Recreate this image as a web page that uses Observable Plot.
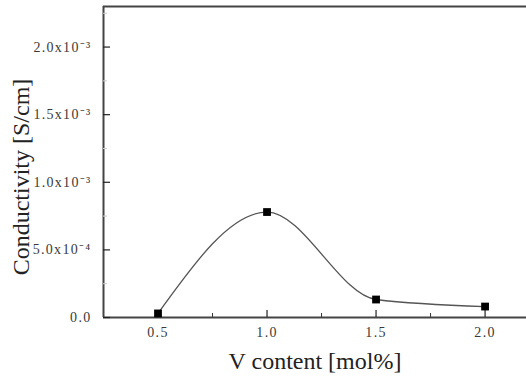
<!DOCTYPE html>
<html>
<head>
<meta charset="utf-8">
<script src="https://cdn.jsdelivr.net/npm/d3@7"></script>
<script src="https://cdn.jsdelivr.net/npm/@observablehq/plot@0.6"></script>
<style>
  html, body { margin: 0; padding: 0; background: white; }
  #chart g[aria-label$="tick label"] {
    font-family: 'Liberation Serif', 'Times New Roman', serif;
    font-size: 14px;
    letter-spacing: 1.3px;
  }
  #chart g[aria-label$="tick label"] text { fill: #3a3a3a; }
</style>
</head>
<body>
<div id="chart"></div>
<script>
// Data
const vContent = [0.5, 1.0, 1.5, 2.0];
const conductivity = [3.0e-5, 7.8e-4, 1.33e-4, 8.1e-5];

// Axis ticks
const xMajor = [0.5, 1.0, 1.5, 2.0];
const xMajorLabels = ["0.5", "1.0", "1.5", "2.0"];
const xMinor = [0.75, 1.25, 1.75];
const yMajor = [0, 5e-4, 1e-3, 1.5e-3, 2e-3];
const yMajorLabels = ["0.0", "5.0x10\u207B\u2074", "1.0x10\u207B\u00B3", "1.5x10\u207B\u00B3", "2.0x10\u207B\u00B3"];
const yMinor = [2.5e-4, 7.5e-4, 1.25e-3, 1.75e-3, 2.25e-3];

const xLabel = "V content [mol%]";
const yLabel = "Conductivity [S/cm]";

const data = vContent.map((x, i) => ({x, y: conductivity[i]}));
const xDomain = [0.25, 2.19];
const yDomain = [0, 2.3e-3];

const fmtX = d => xMajorLabels[xMajor.findIndex(v => Math.abs(v - d) < 1e-9)];
const fmtY = d => yMajorLabels[yMajor.findIndex(v => Math.abs(v - d) < 1e-12)];

const serif = "'Liberation Serif', 'Times New Roman', serif";
const axisColor = "#444";

const chart = Plot.plot({
  width: 526,
  height: 377,
  marginLeft: 103,
  marginRight: 0,
  marginTop: 6,
  marginBottom: 60,
  style: {fontFamily: serif, background: "white", color: "#333"},
  x: {domain: xDomain},
  y: {domain: yDomain},
  marks: [
    // frame lines
    Plot.ruleY([yDomain[1]], {stroke: axisColor, strokeWidth: 2}),
    Plot.ruleX([xDomain[0]], {stroke: axisColor, strokeWidth: 2}),
    Plot.ruleY([yDomain[0]], {stroke: axisColor, strokeWidth: 2}),
    // y axis: labels, major ticks, minor ticks (inward)
    Plot.axisY({ticks: yMajor, tickSize: 0, tickPadding: 12, tickFormat: fmtY, label: null, fontSize: 14, fontFamily: serif, color: "#3a3a3a"}),
    Plot.axisY({ticks: yMajor, tickSize: -7, tickFormat: () => "", label: null, color: "#222", strokeWidth: 1.2}),
    Plot.axisY({ticks: yMinor, tickSize: -4, tickFormat: () => "", label: null, color: "#ccc"}),
    // x axis
    Plot.axisX({ticks: xMajor, tickSize: 0, tickPadding: 10, tickFormat: fmtX, label: null, fontSize: 14, fontFamily: serif, color: "#3a3a3a"}),
    Plot.axisX({ticks: xMajor, tickSize: -7, tickFormat: () => "", label: null, color: "#222", strokeWidth: 1.2}),
    Plot.axisX({ticks: xMinor, tickSize: -4, tickFormat: () => "", label: null, color: "#333"}),
    // curve and markers
    Plot.line(data, {x: "x", y: "y", curve: "monotone-x", stroke: "#555", strokeWidth: 1.3}),
    Plot.dot(data, {x: "x", y: "y", symbol: "square", fill: "black", stroke: "none", r: 4.4}),
    // axis titles
    Plot.text([yLabel], {frameAnchor: "left", rotate: -90, dx: -82, dy: 15, fontSize: 24, fontFamily: serif, textAnchor: "middle", lineAnchor: "middle", fill: "#222"}),
    Plot.text([xLabel], {frameAnchor: "bottom", dy: 44, fontSize: 24, fontFamily: serif, textAnchor: "middle", lineAnchor: "middle", fill: "#222"})
  ]
});
document.getElementById("chart").appendChild(chart);
</script>
</body>
</html>
